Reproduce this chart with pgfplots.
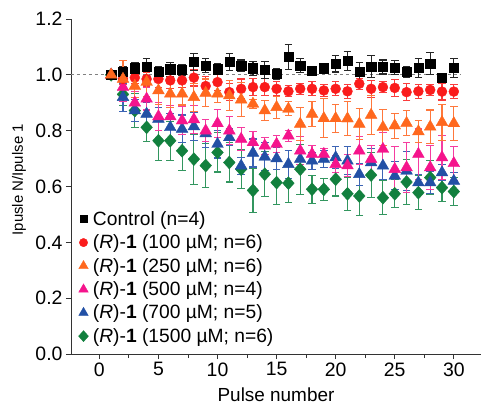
\documentclass[border=0pt]{standalone}
\usepackage{pgfplots}
\pgfplotsset{compat=1.18}
\usepackage{pgfplotstable}
\usepackage{fontspec}
\setmainfont{Liberation Sans}
\definecolor{cRed}{RGB}{250,28,28}
\definecolor{cRedL}{RGB}{250,60,60}
\definecolor{cOr}{RGB}{255,104,30}
\definecolor{cOrL}{RGB}{255,120,60}
\definecolor{cPk}{RGB}{245,20,140}
\definecolor{cPkL}{RGB}{245,60,160}
\definecolor{cBl}{RGB}{34,80,165}
\definecolor{cBlL}{RGB}{60,100,180}
\definecolor{cGr}{RGB}{18,128,62}
\definecolor{cGrL}{RGB}{50,150,95}

\pgfplotstableread{
x y e
1 1.000 0.000
2 1.010 0.020
3 1.024 0.020
4 1.028 0.030
5 1.010 0.020
6 1.020 0.025
7 1.018 0.020
8 1.046 0.030
9 1.033 0.025
10 1.020 0.020
11 1.046 0.030
12 1.033 0.020
13 1.024 0.025
14 1.018 0.030
15 1.004 0.020
16 1.064 0.045
17 1.033 0.025
18 1.016 0.015
19 1.024 0.015
20 1.040 0.030
21 1.050 0.035
22 1.010 0.035
23 1.030 0.040
24 1.028 0.025
25 1.025 0.025
26 1.010 0.020
27 1.025 0.035
28 1.040 0.040
29 0.990 0.015
30 1.025 0.035
}\ctrl

\pgfplotstableread{
x y e
1 1.000 0.000
2 0.985 0.020
3 0.990 0.020
4 0.985 0.025
5 0.985 0.030
6 0.980 0.030
7 0.980 0.025
8 0.990 0.030
9 0.960 0.035
10 0.974 0.030
11 0.938 0.030
12 0.950 0.035
13 0.956 0.030
14 0.956 0.030
15 0.950 0.025
16 0.941 0.020
17 0.950 0.020
18 0.950 0.025
19 0.944 0.020
20 0.950 0.025
21 0.941 0.025
22 0.968 0.020
23 0.950 0.030
24 0.956 0.020
25 0.953 0.030
26 0.938 0.030
27 0.941 0.025
28 0.946 0.020
29 0.940 0.030
30 0.940 0.025
}\red

\pgfplotstableread{
x y e
1 1.000 0.000
2 0.985 0.065
3 0.960 0.040
4 0.974 0.050
5 0.944 0.050
6 0.932 0.050
7 0.932 0.040
8 0.920 0.050
9 0.935 0.050
10 0.932 0.030
11 0.926 0.055
12 0.911 0.060
13 0.896 0.015
14 0.872 0.035
15 0.884 0.040
16 0.878 0.025
17 0.824 0.060
18 0.860 0.045
19 0.844 0.070
20 0.844 0.050
21 0.843 0.060
22 0.824 0.055
23 0.856 0.070
24 0.812 0.065
25 0.818 0.045
26 0.827 0.045
27 0.797 0.040
28 0.814 0.060
29 0.830 0.065
30 0.826 0.060
}\orng

\pgfplotstableread{
x y e
1 1.000 0.000
2 0.956 0.050
3 0.900 0.040
4 0.914 0.040
5 0.851 0.050
6 0.851 0.040
7 0.836 0.050
8 0.840 0.050
9 0.800 0.040
10 0.826 0.050
11 0.800 0.050
12 0.770 0.040
13 0.758 0.040
14 0.746 0.030
15 0.752 0.030
16 0.782 0.020
17 0.728 0.050
18 0.716 0.030
19 0.716 0.020
20 0.680 0.030
21 0.675 0.040
22 0.728 0.050
23 0.698 0.050
24 0.734 0.060
25 0.662 0.080
26 0.668 0.090
27 0.716 0.090
28 0.668 0.080
29 0.704 0.080
30 0.683 0.060
}\pink

\pgfplotstableread{
x y e
1 1.000 0.000
2 0.920 0.050
3 0.872 0.040
4 0.860 0.040
5 0.842 0.040
6 0.812 0.050
7 0.806 0.050
8 0.815 0.050
9 0.790 0.050
10 0.752 0.050
11 0.776 0.030
12 0.674 0.030
13 0.720 0.050
14 0.706 0.050
15 0.700 0.040
16 0.680 0.050
17 0.698 0.030
18 0.692 0.030
19 0.698 0.030
20 0.704 0.040
21 0.692 0.050
22 0.644 0.040
23 0.686 0.050
24 0.674 0.050
25 0.638 0.050
26 0.656 0.070
27 0.614 0.030
28 0.614 0.040
29 0.650 0.030
30 0.620 0.030
}\blue

\pgfplotstableread{
x y e
1 1.000 0.000
2 0.930 0.040
3 0.872 0.060
4 0.812 0.050
5 0.764 0.070
6 0.764 0.070
7 0.728 0.070
8 0.698 0.090
9 0.675 0.080
10 0.722 0.070
11 0.686 0.070
12 0.662 0.070
13 0.586 0.080
14 0.644 0.080
15 0.614 0.080
16 0.612 0.070
17 0.662 0.090
18 0.590 0.050
19 0.590 0.040
20 0.626 0.060
21 0.574 0.060
22 0.566 0.070
23 0.641 0.080
24 0.560 0.060
25 0.574 0.050
26 0.616 0.080
27 0.578 0.060
28 0.632 0.060
29 0.596 0.050
30 0.582 0.050
}\green

\begin{document}
\begin{tikzpicture}
\begin{axis}[
  scale only axis, width=410bp, height=335bp,
  xmin=-2.4, xmax=32.3, ymin=0, ymax=1.2,
  axis lines=left,
  axis line style={-, line width=1pt, black!80},
  every tick/.style={black!80, line width=0.9pt},
  xtick={0,5,10,15,20,25,30},
  minor x tick num=1,
  ytick={0,0.2,0.4,0.6,0.8,1.0,1.2},
  tick align=outside,
  major tick length=5bp, minor tick length=4bp,
  /pgf/number format/assume math mode=true,
  yticklabel style={/pgf/number format/.cd, fixed, fixed zerofill, precision=1},
  tick label style={font=\fontsize{19.5}{21}\selectfont},
  xlabel={Pulse number},
  xlabel style={font=\fontsize{19}{21}\selectfont, at={(axis description cs:0.5,0)}, anchor=north, inner sep=0pt, yshift=-34bp},
  ylabel={Ipusle N/Ipulse 1},
  ylabel style={font=\fontsize{15}{17}\selectfont, at={(axis description cs:-0.127,0.52)}, anchor=center, inner sep=0pt},
  clip=false,
  legend style={at={(axis description cs:0.018,0.432)}, anchor=north west, draw=none, fill=none,
    font=\fontsize{19.3}{21}\selectfont, row sep=4pt, column sep=2.5pt, inner sep=0pt, cells={anchor=west}},
  legend image code/.code={\draw[#1] plot coordinates {(0.15cm,0cm)};},
]
\coordinate (SW) at (rel axis cs:0,0);
\addlegendimage{only marks, mark=square*, mark size=3.5, black}
\addlegendentry{Control (n=4)}
\addlegendimage{only marks, mark=*, mark size=4.2, cRed}
\addlegendentry{(\textit{R})-\textbf{1} (100 µM; n=6)}
\addlegendimage{only marks, mark=triangle*, mark size=5.5, cOr}
\addlegendentry{(\textit{R})-\textbf{1} (250 µM; n=6)}
\addlegendimage{only marks, mark=triangle*, mark size=5.5, cPk}
\addlegendentry{(\textit{R})-\textbf{1} (500 µM; n=4)}
\addlegendimage{only marks, mark=triangle*, mark size=5.5, cBl}
\addlegendentry{(\textit{R})-\textbf{1} (700 µM; n=5)}
\addlegendimage{only marks, mark=diamond*, mark size=5.5, mark options={xscale=1.2}, cGr}
\addlegendentry{(\textit{R})-\textbf{1} (1500 µM; n=6)}

\addplot[forget plot, gray, dashed, line width=0.8pt] coordinates {(-2.4,1) (30.5,1)};

\addplot[forget plot, only marks, mark=diamond*, mark size=6.5, mark options={xscale=1.2, fill=cGr, draw=cGr}, cGr,
  error bars/.cd, y dir=both, y explicit, error bar style={line width=1.1pt, cGrL}, error mark options={rotate=90, mark size=3.8bp, line width=1.1pt, cGrL}]
  table[x=x, y=y, y error=e]{\green};
\addplot[forget plot, only marks, mark=triangle*, mark size=6.8, mark options={fill=cBl, draw=cBl}, cBl,
  error bars/.cd, y dir=both, y explicit, error bar style={line width=1.1pt, cBlL}, error mark options={rotate=90, mark size=3.8bp, line width=1.1pt, cBlL}]
  table[x=x, y=y, y error=e]{\blue};
\addplot[forget plot, only marks, mark=triangle*, mark size=6.8, mark options={fill=cPk, draw=cPk}, cPk,
  error bars/.cd, y dir=both, y explicit, error bar style={line width=1.1pt, cPkL}, error mark options={rotate=90, mark size=3.8bp, line width=1.1pt, cPkL}]
  table[x=x, y=y, y error=e]{\pink};
\addplot[forget plot, only marks, mark=*, mark size=5, mark options={fill=cRed, draw=cRed}, cRed,
  error bars/.cd, y dir=both, y explicit, error bar style={line width=1.1pt, cRedL}, error mark options={rotate=90, mark size=3.8bp, line width=1.1pt, cRedL}]
  table[x=x, y=y, y error=e]{\red};
\addplot[forget plot, only marks, mark=square*, mark size=4.6, mark options={fill=black, draw=black}, black,
  error bars/.cd, y dir=both, y explicit, error bar style={line width=1.1pt, black!85}, error mark options={rotate=90, mark size=3.8bp, line width=1.1pt, black!85}]
  table[x=x, y=y, y error=e]{\ctrl};
\addplot[forget plot, only marks, mark=triangle*, mark size=6.8, mark options={fill=cOr, draw=cOr}, cOr,
  error bars/.cd, y dir=both, y explicit, error bar style={line width=1.1pt, cOrL}, error mark options={rotate=90, mark size=3.8bp, line width=1.1pt, cOrL}]
  table[x=x, y=y, y error=e]{\orng};
\end{axis}
\pgfresetboundingbox
\path (SW) ++(-71bp,-51bp) rectangle ++(481bp,405bp);
\end{tikzpicture}
\end{document}
